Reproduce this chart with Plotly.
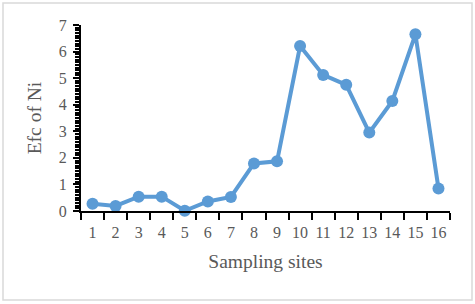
import plotly.graph_objects as go

sites = [str(i) for i in range(1, 17)]
efc_ni = [0.27, 0.19, 0.54, 0.54, 0.01, 0.36, 0.53, 1.79, 1.87, 6.21, 5.12, 4.75, 2.95, 4.14, 6.65, 0.85]
y_ticks = [0, 1, 2, 3, 4, 5, 6, 7]

blue = "#5B9BD5"
txt = "#595959"
font = "Liberation Serif"

fig = go.Figure()
fig.add_trace(go.Scatter(
    x=sites, y=efc_ni, mode="lines+markers",
    line=dict(color=blue, width=4),
    marker=dict(color=blue, size=12),
    cliponaxis=False,
))

fig.update_layout(
    width=475, height=304,
    margin=dict(l=81, r=25, t=25, b=93),
    paper_bgcolor="white", plot_bgcolor="white",
    showlegend=False,
    font=dict(family=font, color=txt, size=16),
    xaxis=dict(
        type="category", tickson="boundaries", tickangle=0, automargin=False,
        showgrid=False, zeroline=False,
        showline=True, linecolor="black", linewidth=2,
        ticks="outside", ticklen=7, tickwidth=2, tickcolor="black",
        ticklabelstandoff=6,
        tickfont=dict(family=font, size=16, color=txt),
        title=dict(text="Sampling sites", font=dict(family=font, size=19.5, color=txt), standoff=14),
        range=[-0.5, 15.5],
    ),
    yaxis=dict(
        range=[0, 7], tickvals=y_ticks, automargin=False,
        showgrid=False, zeroline=False,
        showline=True, linecolor="black", linewidth=2,
        ticks="outside", ticklen=6, tickwidth=2, tickcolor="black",
        ticklabelstandoff=3,
        minor=dict(dtick=0.1, ticks="outside", ticklen=4, tickwidth=1.5, tickcolor="black"),
        tickfont=dict(family=font, size=16, color=txt),
        title=dict(text="Efc of Ni", font=dict(family=font, size=19.5, color=txt), standoff=12),
    ),
    shapes=[dict(
        type="rect", xref="paper", yref="paper",
        x0=-0.2114, x1=1.0596, y0=-0.4785, y1=1.118,
        line=dict(color="#d9d9d9", width=1.5), fillcolor="rgba(0,0,0,0)", layer="below",
    )],
)

fig.write_html("out.html", config={"displayModeBar": False},
               post_script="document.body.style.margin='0';")
